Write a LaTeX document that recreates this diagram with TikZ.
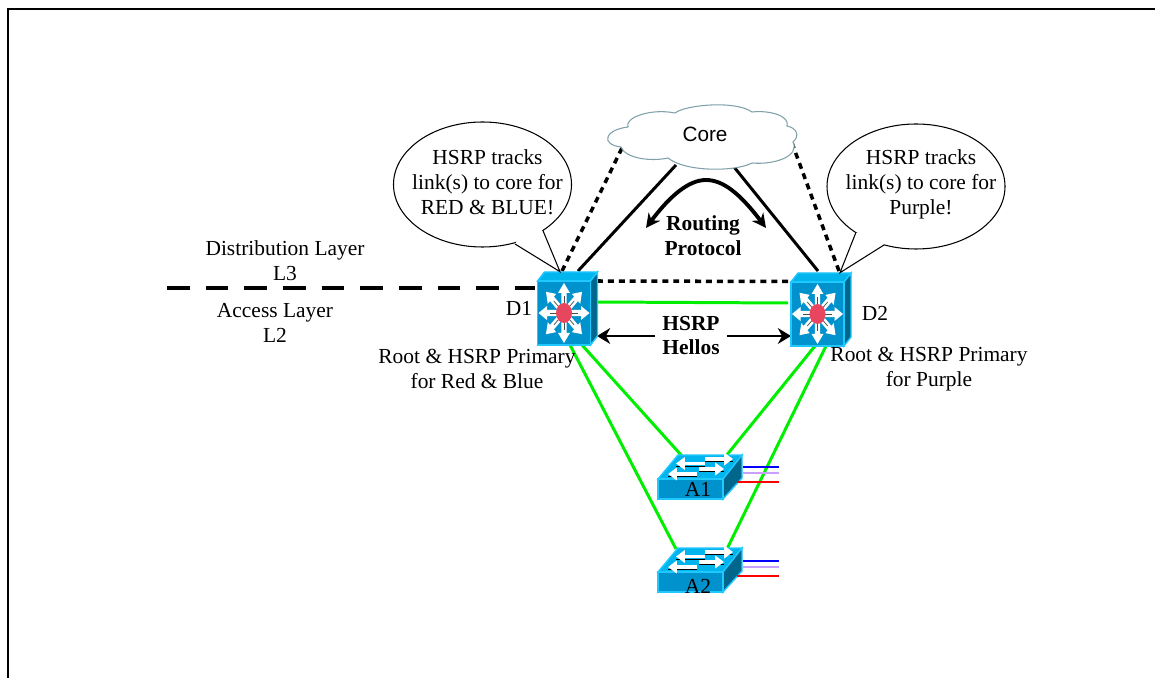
\documentclass[tikz,border=0pt]{standalone}
\usepackage{fontspec}
\setmainfont{Liberation Serif}
\usetikzlibrary{arrows.meta, shapes.geometric, bending}
\definecolor{swfront}{HTML}{0092CC}
\definecolor{swtop}{HTML}{00B4EE}
\definecolor{swside}{HTML}{00668C}
\definecolor{swedge}{HTML}{1FC8FF}
\definecolor{swdot}{HTML}{E8455F}
\definecolor{linkgreen}{HTML}{00EE00}
\definecolor{vlanpurple}{HTML}{C8A0FF}
\definecolor{cloudedge}{HTML}{7FA0A8}
\newlength{\px}
\setlength{\px}{0.02cm}
\tikzset{
  lbl/.style={inner sep=0pt,align=center,font=\fontsize{12.2}{14.2}\selectfont},
  boldlbl/.style={lbl,font=\fontsize{12.2}{14.2}\selectfont\bfseries},
  greenlink/.style={linkgreen,line width=1.7pt},
  corelink/.style={black,line width=1.7pt},
  dotlink/.style={black,line width=2pt,dash pattern=on 3.4pt off 2.8pt},
  hellolink/.style={black,line width=1.4pt,-{Stealth[length=7.5pt,width=9pt]}},
  callout/.style={ellipse,draw,line width=.6pt,inner sep=0pt,fill=white,minimum width=178\px,minimum height=125\px},
  vlan/.style={line width=1.6pt},
  l3switch/.pic={
    \draw[swedge,line width=.8pt,fill=swtop] (0,0) -- (7,-9) -- (60,-9) -- (53,0) -- cycle;
    \draw[swedge,line width=.8pt,fill=swside] (53,0) -- (60,-9) -- (60,55) -- (53,64) -- cycle;
    \draw[swedge,line width=.8pt,fill=swfront] (0,0) rectangle (53,64);
    \foreach \a in {0,45,...,315}{
      \begin{scope}[shift={(26.5,32)},xscale=.85,rotate=\a]
      \fill[white] (5,-3.2) -- (20,-3.2) -- (20,-7) -- (30,0) -- (20,7) -- (20,3.2) -- (5,3.2) -- cycle;
      \draw[black!70,line width=.4pt] (5,0) -- (17,0);
      \end{scope}
    }
    \fill[swdot] (26.5,32) ellipse (8 and 10);
  },
  l2switch/.pic={
    \draw[swedge,line width=.8pt,fill=swtop] (0,0) -- (20,-24) -- (84,-24) -- (65,0) -- cycle;
    \draw[swedge,line width=.8pt,fill=swside] (65,0) -- (84,-24) -- (84,-1) -- (65,20) -- cycle;
    \draw[swedge,line width=.8pt,fill=swfront] (0,0) rectangle (65,20);
    \foreach \x/\y/\u/\v in {47/-15.5/18/-15.5,47/-20/75/-20,39/-5/10/-5,41/-10/66/-10}{
      \draw[black,line width=.5pt] (\x,\y+2.5) -- (\u,\v+2.5);
      \draw[white,line width=2.2pt,-{Triangle[length=5pt,width=7pt]}] (\x,\y) -- (\u,\v);
    }
  }
}
\begin{document}
\begin{tikzpicture}[x=0.02cm,y=-0.02cm]
\useasboundingbox (0,0) rectangle (1155,678);
% frame
\coordinate (fa) at (8,678); \coordinate (fb) at (8,9); \coordinate (fc) at (1155,9);
\draw[line width=1pt] (fa) -- (fb) -- (fc);

% link ends
\coordinate (d1top) at (578,271); \coordinate (d1dot) at (562,271);
\coordinate (d2top) at (818,271); \coordinate (d2dot) at (839,271);
\coordinate (coreL) at (676,165); \coordinate (coreR) at (734,167);
\coordinate (coreLd) at (622,148); \coordinate (coreRd) at (792,143);
\coordinate (d1e1) at (597,281); \coordinate (d2w1) at (791,281.5);
\coordinate (d1e2) at (597,302); \coordinate (d2w2) at (788,303);
\coordinate (d1e3) at (597,336); \coordinate (d2w3) at (791,336);
\coordinate (hl) at (655,336); \coordinate (hr) at (727,336);
\coordinate (d1s1) at (582,345); \coordinate (d1s2) at (570,345);
\coordinate (d2s1) at (815,346); \coordinate (d2s2) at (826,346);
\coordinate (a1l) at (682,456); \coordinate (a1r) at (726,456);
\coordinate (a2l) at (676,549); \coordinate (a2r) at (727,549);
\coordinate (busl) at (167,288); \coordinate (busr) at (535,288);

% links
\draw[corelink] (d1top) -- (coreL) (d2top) -- (coreR);
\draw[dotlink] (d1dot) -- (coreLd) (d2dot) -- (coreRd) (d1e1) -- (d2w1);
\draw[greenlink] (d1e2) -- (d2w2)
(d1s1) -- (a1l) (d1s2) -- (a2l) (d2s1) -- (a1r) (d2s2) -- (a2r);
\draw[hellolink] (hl) -- (d1e3);
\draw[hellolink] (hr) -- (d2w3);
\draw[line width=2.6pt,dash pattern=on 13pt off 9pt] (busl) -- (busr);

% core cloud
\draw[cloudedge,line width=.6pt,fill=white]
(621,147) .. controls (612,146) and (606,142) .. (608,137)
.. controls (610,131) and (620,128) .. (628,127)
.. controls (624,118) and (650,108) .. (675,113)
.. controls (685,105) and (735,100) .. (752,112)
.. controls (770,110) and (790,116) .. (787,126)
.. controls (797,128) and (800,136) .. (793,142)
.. controls (800,156) and (775,165) .. (752,163)
.. controls (735,172) and (685,172) .. (668,158)
.. controls (650,162) and (625,158) .. (621,147) -- cycle;
\node[inner sep=0pt,font=\fontsize{11.8}{14}\selectfont\fontspec{Liberation Sans}] (core) at (705,134) {Core};

% devices
\pic (D1) at (537.5,281) {l3switch};
\pic (D2) at (791,282) {l3switch};
\pic (A1) at (658,479) {l2switch};
\pic (A2) at (658,572) {l2switch};

% routing arrow
\coordinate (rl) at (646,228); \coordinate (rr) at (766,228); \coordinate (rtop) at (706,180);
\draw[line width=2.2pt,{Stealth[length=8pt,width=8pt,flex]}-{Stealth[length=8pt,width=8pt,flex]}]
(rl) .. controls (668,197) and (688,180) .. (rtop) .. controls (724,180) and (742,195) .. (rr);

% callouts
\node[callout] (bubL) at (482.5,184.5) {};
\node[lbl] (txtL) at (487.5,182) {HSRP tracks\\link(s) to core for\\RED \& BLUE!};
\coordinate (bubLa) at (542.7,230); \coordinate (bubLb) at (515,244); \coordinate (tipL) at (560,271.7);
\fill[white] (bubLa) -- (tipL) -- (bubLb) -- (525,228) -- cycle;
\draw[line width=.6pt] (bubLa) -- (tipL) -- (bubLb);
\node[callout] (bubR) at (916,186.5) {};
\node[lbl] (txtR) at (921,184.5) {HSRP tracks\\link(s) to core for\\Purple!};
\coordinate (bubRa) at (855.7,233); \coordinate (bubRb) at (884,245); \coordinate (tipR) at (840,272.7);
\fill[white] (bubRa) -- (tipR) -- (bubRb) -- (875,230) -- cycle;
\draw[line width=.6pt] (bubRa) -- (tipR) -- (bubRb);

% vlans
\foreach \n/\y in {A1/467,A2/561}{
  \coordinate (\n b) at (743,\y); \coordinate (\n be) at (779,\y);
  \coordinate (\n p) at (743,\y+6); \coordinate (\n pe) at (779,\y+6);
  \coordinate (\n r) at (737,\y+15); \coordinate (\n re) at (779,\y+15);
  \draw[vlan,blue] (\n b) -- (\n be);
  \draw[vlan,vlanpurple] (\n p) -- (\n pe);
  \draw[vlan,red] (\n r) -- (\n re);
}

% labels
\node[lbl] (distL) at (285,260.5) {Distribution Layer\\L3};
\node[lbl] (accL) at (275,322.5) {Access Layer\\L2};
\node[lbl] (nameD1) at (519,308) {D1};
\node[lbl] (nameD2) at (875,313) {D2};
\node[lbl] (rootL) at (477,369) {Root \& HSRP Primary\\for Red \& Blue};
\node[lbl] (rootR) at (929,369) {Root \& HSRP Primary\\for Purple};
\node[boldlbl] (rp) at (703,235.5) {Routing\\Protocol};
\node[boldlbl] (hh) at (691,335.5) {HSRP\\Hellos};
\node[lbl] (nameA1) at (698,489) {A1};
\node[lbl] (nameA2) at (698,586) {A2};
\end{tikzpicture}
\end{document}
